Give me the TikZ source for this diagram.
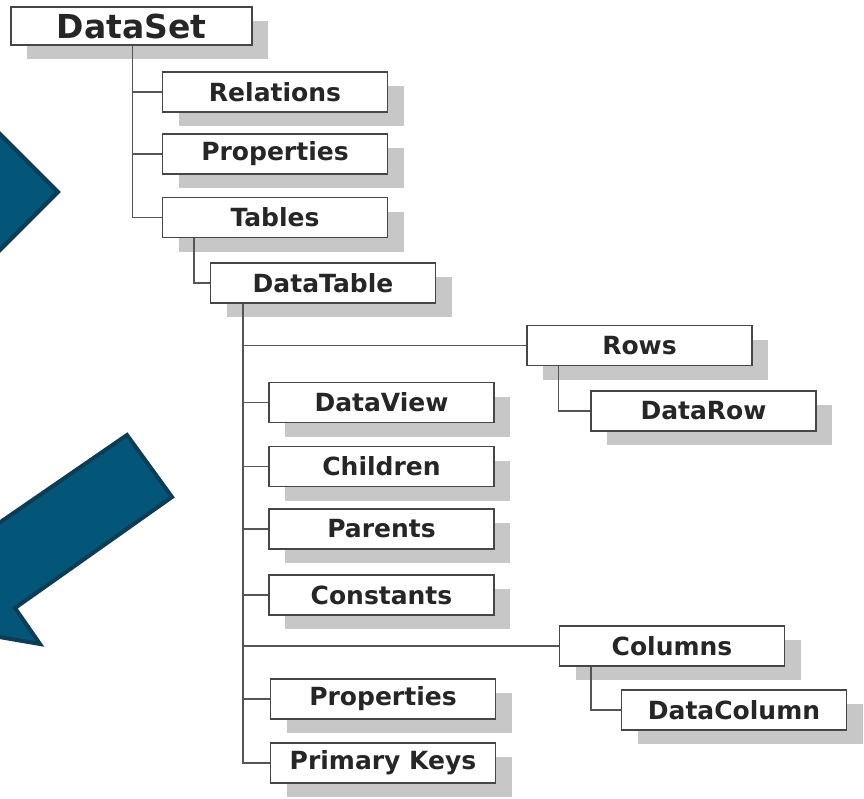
\documentclass[tikz,border=0pt]{standalone}
\usepackage{fontspec}
\setmainfont{DejaVu Sans}
\usetikzlibrary{shadows}
\definecolor{arrowblue}{RGB}{3,86,120}
\definecolor{arrowedge}{RGB}{12,60,86}
\definecolor{boxline}{RGB}{70,70,70}
\definecolor{treeline}{RGB}{85,85,85}
\begin{document}
\begin{tikzpicture}[x=0.5pt,y=-0.5pt,
  box/.style={draw=boxline, line width=0.7pt, fill=white, minimum width=112.5pt, minimum height=20pt, inner sep=0pt,
    font=\bfseries\fontsize{12.5}{15}\selectfont, text=black!85,
    drop shadow={shadow xshift=8pt, shadow yshift=-7pt, fill=black!22, opacity=1}},
  tree/.style={draw=treeline, line width=0.8pt},
  bigarrow/.style={fill=arrowblue, draw=arrowedge, line width=2pt, line join=miter}]
\useasboundingbox (0,0) rectangle (864,799);
\clip (0,0) rectangle (864,799);
\fill [white] (0,0) rectangle (864,799);

% the two blue arrows
\draw [bigarrow] (58,192) -- (-100,34) -- (-100,350) -- cycle;
\draw [bigarrow] (127,435) -- (172,497) -- (15,608) -- (40,644) -- (-76,624) -- (-56,507) -- (-30,543) -- cycle;

% boxes
\node [box, minimum width=120.5pt, minimum height=19pt, font=\bfseries\fontsize{16.5}{20}\selectfont] (ds) at (131.5,26) {DataSet};
\node [box] (rel) at (275,92) {Relations};
\node [box] (prop) at (275,154) {Properties};
\node [box] (tab) at (275,217.5) {Tables};
\node [box] (dt) at (323,283) {DataTable};

\node [box] (rows) at (639.5,345.5) {Rows};
\node [box] (drow) at (703.5,411) {DataRow};

\node [box] (dv) at (381.5,402.5) {DataView};
\node [box] (child) at (381.5,466.5) {Children};
\node [box] (par) at (381.5,529) {Parents};
\node [box] (cons) at (381.5,595) {Constants};

\node [box] (cols) at (672,646) {Columns};
\node [box] (dcol) at (734,710) {DataColumn};

\node [box] (tprop) at (383,699) {Properties};
\node [box] (pk) at (383,763) {Primary Keys};

% tree lines
\draw [tree] ([xshift=61pt]ds.south west) |- (rel.west);
\draw [tree] ([xshift=61pt]ds.south west) |- (prop.west);
\draw [tree] ([xshift=61pt]ds.south west) |- (tab.west);
\draw [tree] ([xshift=16pt]tab.south west) |- (dt.west);

\draw [tree] ([xshift=16.5pt]dt.south west) |- (rows.west);
\draw [tree] ([xshift=16.5pt]dt.south west) |- (dv.west);
\draw [tree] ([xshift=16.5pt]dt.south west) |- (child.west);
\draw [tree] ([xshift=16.5pt]dt.south west) |- (par.west);
\draw [tree] ([xshift=16.5pt]dt.south west) |- (cons.west);
\draw [tree] ([xshift=16.5pt]dt.south west) |- (cols.west);
\draw [tree] ([xshift=16.5pt]dt.south west) |- (tprop.west);
\draw [tree] ([xshift=16.5pt]dt.south west) |- (pk.west);

\draw [tree] ([xshift=16pt]rows.south west) |- (drow.west);
\draw [tree] ([xshift=16pt]cols.south west) |- (dcol.west);
\end{tikzpicture}
\end{document}
